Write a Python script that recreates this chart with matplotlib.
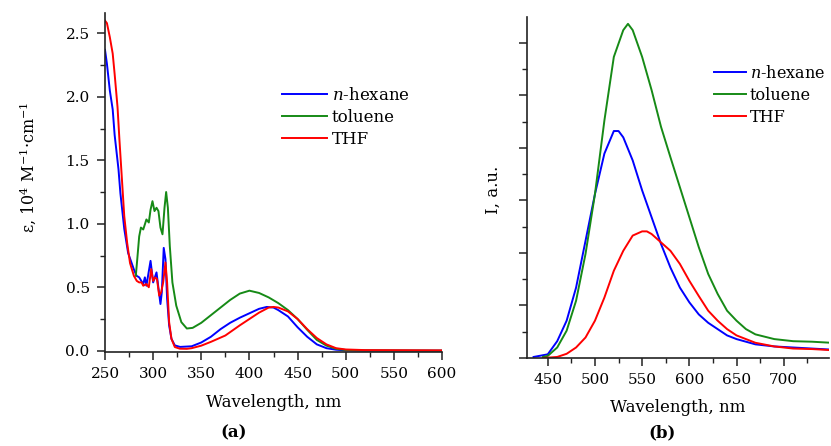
#!/usr/bin/env python3
import matplotlib
matplotlib.use("Agg")
import matplotlib.pyplot as plt
from matplotlib.ticker import MultipleLocator, NullFormatter

plt.rcParams['font.family'] = ['DejaVu Serif']
plt.rcParams['mathtext.fontset'] = 'dejavuserif'

# (a) absorption, eps in 10^4 M^-1 cm^-1
wl_hex = [250, 252, 255, 258, 260, 264, 266, 270, 274, 280, 282.8, 285.5, 289.7, 291.4, 293,
          297.3, 300, 303.5, 305.2, 307.6, 309, 311, 312.8, 314.5, 316.6, 319, 322.5, 328,
          340, 350, 360, 370, 380, 390, 400, 410, 418, 425, 430, 440, 450, 460, 470, 480,
          490, 500, 520, 600]
ab_hex = [2.37, 2.26, 2.05, 1.9, 1.7, 1.43, 1.24, 0.96, 0.77, 0.64, 0.59, 0.578, 0.525, 0.578, 0.512,
          0.708, 0.538, 0.617, 0.512, 0.368, 0.46, 0.81, 0.72, 0.41, 0.2, 0.094, 0.042, 0.03,
          0.035, 0.065, 0.11, 0.17, 0.22, 0.26, 0.295, 0.33, 0.345, 0.34, 0.32, 0.27, 0.185, 0.11, 0.05, 0.02,
          0.008, 0.003, 0.001, 0.0]

wl_tol = [282, 283.5, 285.5, 287.3, 289.7, 291.4, 293, 295.5, 297.3, 299.3, 301.4, 303.5, 305.5,
          307.6, 309.7, 311.8, 313.5, 315.3, 317.3, 320, 324, 329.3, 335, 341, 350, 360, 370, 380,
          390, 400, 410, 420, 430, 440, 450, 460, 470, 480, 490, 500, 520, 600]
ab_tol = [0.59, 0.72, 0.90, 0.97, 0.955, 0.995, 1.034, 1.01, 1.11, 1.178, 1.10, 1.126, 1.10,
          0.97, 0.917, 1.126, 1.25, 1.126, 0.825, 0.538, 0.355, 0.225, 0.175, 0.18, 0.22, 0.28, 0.34, 0.40,
          0.45, 0.473, 0.455, 0.42, 0.375, 0.32, 0.25, 0.165, 0.085, 0.04, 0.015, 0.006, 0.002, 0.0]

wl_thf = [250, 252, 255, 258, 260, 263, 265, 268, 270, 273, 276, 280, 283, 285.5, 288, 289.7, 293,
          295.5, 298, 300, 302, 304, 306.3, 308.3, 310.4, 312.8, 314.5, 316.6, 319, 322.5, 327.7,
          335, 340, 350, 360, 375, 390, 400, 410, 420, 425, 430, 440, 450, 460, 470, 480, 490,
          500, 520, 600]
ab_thf = [2.60, 2.58, 2.47, 2.34, 2.18, 1.92, 1.66, 1.30, 1.06, 0.85, 0.69, 0.59, 0.55, 0.538, 0.538, 0.512, 0.525,
          0.50, 0.643, 0.55, 0.577, 0.564, 0.434, 0.46, 0.538, 0.695, 0.538, 0.225, 0.094, 0.029, 0.016,
          0.015, 0.02, 0.04, 0.07, 0.12, 0.2, 0.25, 0.30, 0.34, 0.345, 0.34, 0.31, 0.25, 0.17, 0.10, 0.05, 0.02,
          0.01, 0.005, 0.003]

# (b) emission, arbitrary units
em_wl_hex = [435, 450, 460, 470, 480, 490, 500, 510, 520, 525, 530, 540, 550, 560, 570, 580, 590,
             600, 610, 620, 630, 640, 650, 670, 690, 710, 730, 750]
em_hex = [0.02, 0.07, 0.32, 0.71, 1.34, 2.23, 3.12, 3.89, 4.32, 4.32, 4.20, 3.76, 3.19, 2.68, 2.17, 1.72, 1.34,
          1.06, 0.83, 0.67, 0.55, 0.43, 0.36, 0.26, 0.22, 0.20, 0.18, 0.16]

em_wl_tol = [445, 450, 460, 470, 480, 490, 500, 510, 520, 530, 535, 540, 550, 560, 570, 580, 590,
             600, 610, 620, 630, 640, 650, 660, 670, 690, 710, 730, 750]
em_tol = [0.02, 0.04, 0.2, 0.52, 1.09, 1.98, 3.12, 4.52, 5.73, 6.24, 6.36, 6.24, 5.73, 5.10, 4.40, 3.82, 3.25,
          2.68, 2.11, 1.60, 1.22, 0.90, 0.71, 0.55, 0.45, 0.36, 0.32, 0.31, 0.29]

em_wl_thf = [445, 460, 470, 480, 490, 500, 510, 520, 530, 540, 550, 555, 560, 570, 580, 590, 600,
             610, 620, 630, 640, 650, 670, 690, 710, 730, 750]
em_thf = [0.0, 0.02, 0.08, 0.20, 0.39, 0.71, 1.15, 1.66, 2.04, 2.33, 2.41, 2.41, 2.36, 2.20, 2.04, 1.79, 1.47,
          1.18, 0.90, 0.71, 0.55, 0.43, 0.29, 0.22, 0.18, 0.17, 0.15]

labels = [r"$n$-hexane", "toluene", "THF"]
colors = ["#0000ff", "#168a16", "#ff0000"]

W, H = 831, 446
fig = plt.figure(figsize=(W / 100, H / 100), dpi=100)
ax1 = fig.add_axes([105 / W, 1 - 352 / H, 337 / W, 339 / H])
ax2 = fig.add_axes([527 / W, 1 - 358 / H, 302 / W, 341 / H])

for x, y, lab, c in zip([wl_hex, wl_tol, wl_thf], [ab_hex, ab_tol, ab_thf], labels, colors):
    ax1.plot(x, y, color=c, lw=1.4, label=lab)
for x, y, lab, c in zip([em_wl_hex, em_wl_tol, em_wl_thf], [em_hex, em_tol, em_thf], labels, colors):
    ax2.plot(x, y, color=c, lw=1.4, label=lab)

ax1.set_xlim(250, 600)
ax1.set_ylim(-0.01, 2.66)
ax1.xaxis.set_major_locator(MultipleLocator(50))
ax1.xaxis.set_minor_locator(MultipleLocator(25))
ax1.yaxis.set_major_locator(MultipleLocator(0.5))
ax1.yaxis.set_minor_locator(MultipleLocator(0.25))
ax1.yaxis.set_major_formatter(plt.FuncFormatter(lambda v, p: "%.1f" % v))
ax1.set_xlabel("Wavelength, nm", fontsize=12)
ax1.set_ylabel(r"ε, 10$^4$ M$^{-1}$·cm$^{-1}$", fontsize=11.5)
ax1.yaxis.set_label_coords(-0.20, 0.546)
ax1.xaxis.set_label_coords(0.5, -0.125)

ax2.set_xlim(428, 748)
ax2.set_ylim(0, 6.49)
ax2.xaxis.set_major_locator(MultipleLocator(50))
ax2.xaxis.set_minor_locator(MultipleLocator(25))
ax2.yaxis.set_major_locator(MultipleLocator(1))
ax2.yaxis.set_minor_locator(MultipleLocator(0.5))
ax2.yaxis.set_major_formatter(NullFormatter())
ax2.set_xlabel("Wavelength, nm", fontsize=12)
ax2.set_ylabel("I, a.u.", fontsize=12)
ax2.yaxis.set_label_coords(-0.085, 0.493)
ax2.xaxis.set_label_coords(0.5, -0.12)

for ax in (ax1, ax2):
    ax.spines['top'].set_visible(False)
    ax.spines['right'].set_visible(False)
    for s in ('left', 'bottom'):
        ax.spines[s].set_linewidth(1.2)
        ax.spines[s].set_color("#222222")
    ax.tick_params(which='major', direction='out', length=6, width=1.1, labelsize=11,
                   color="#222222", pad=5)
    ax.tick_params(which='minor', direction='out', length=3.5, width=1.0, color="#222222")

fig.legend(handles=ax1.get_lines(), labels=labels, loc='upper left',
           bbox_to_anchor=(282 / W, 1 - 87 / H), frameon=False, fontsize=12,
           handlelength=2.7, handletextpad=0.3, labelspacing=0.3, borderpad=0, borderaxespad=0)
fig.legend(handles=ax2.get_lines(), labels=labels, loc='upper left',
           bbox_to_anchor=(714 / W, 1 - 65 / H), frameon=False, fontsize=11.5,
           handlelength=2.0, handletextpad=0.25, labelspacing=0.3, borderpad=0, borderaxespad=0)

fig.text(234 / W, 1 - 433 / H, "(a)", ha='center', va='center', fontsize=12, fontweight='bold')
fig.text(662 / W, 1 - 433 / H, "(b)", ha='center', va='center', fontsize=12, fontweight='bold')

fig.savefig("out.png", dpi=100)
plt.close(fig)
